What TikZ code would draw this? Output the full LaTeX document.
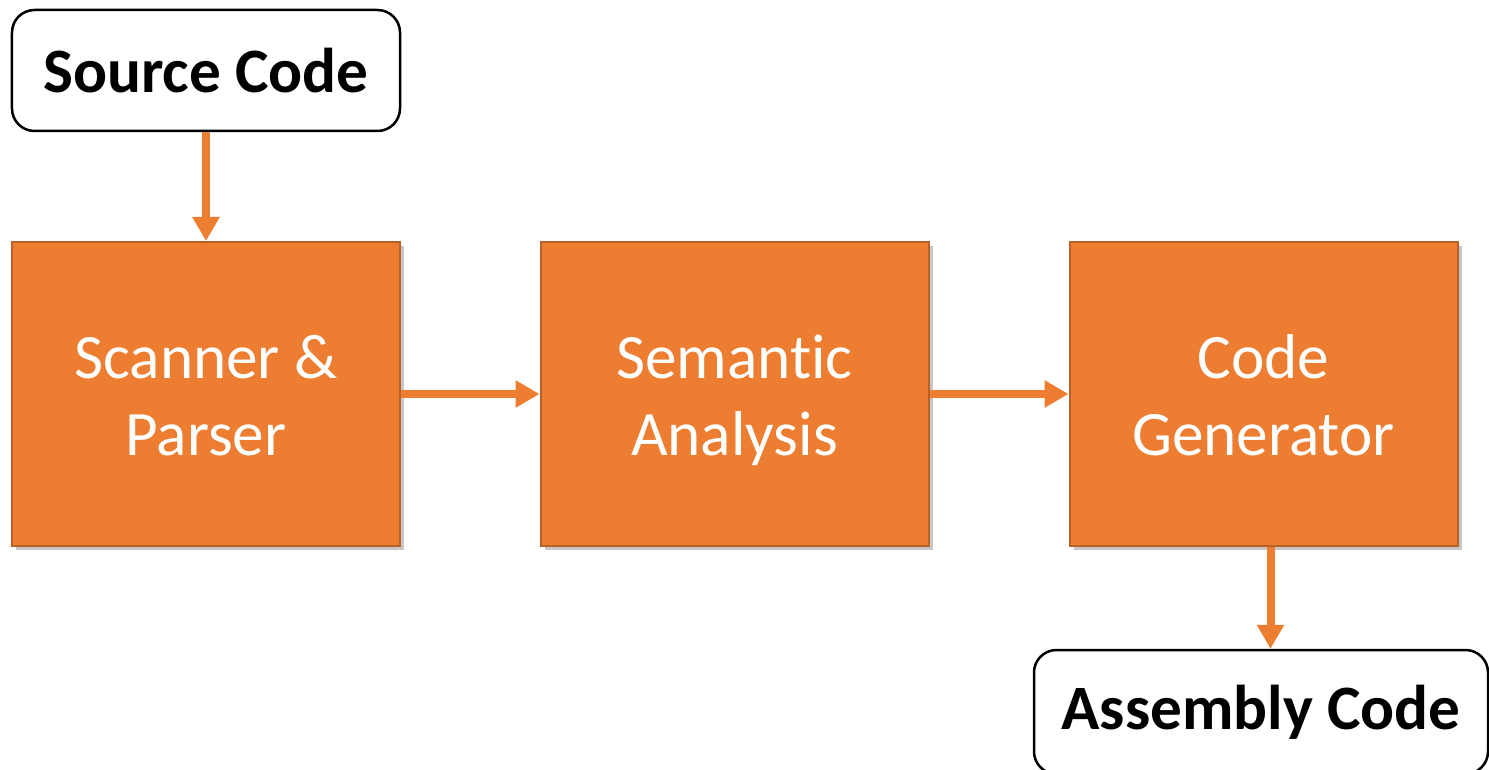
\documentclass[tikz,border=0pt]{standalone}
\usepackage{fontspec}
\setmainfont{Carlito}[Ligatures=NoCommon]
\usetikzlibrary{arrows.meta, positioning, shadows}
\definecolor{corange}{HTML}{ED7D31}
\definecolor{cdarkorange}{HTML}{B8622A}
% line strut so both lines of a stage sit at the same height
\newcommand{\linestrut}{\rule[-8pt]{0pt}{42pt}}
\tikzset{
  every picture/.style={font=\fontsize{36}{44}\selectfont},
  stage/.style={draw=cdarkorange, fill=corange, line width=0.04cm, text=white, align=center,
    minimum width=7.76cm, minimum height=6.08cm, inner sep=0pt,
    drop shadow={shadow xshift=2.5pt, shadow yshift=-2.5pt, fill=black, opacity=0.22}},
  io/.style={draw=black, fill=white, line width=0.05cm, rounded corners=0.45cm, align=center,
    minimum height=2.42cm, inner sep=0pt, font=\fontsize{36}{44}\selectfont\bfseries},
  arrow/.style={-{Triangle[length=0.48cm, width=0.52cm]}, draw=corange, line width=0.16cm},
}
\begin{document}
\begin{tikzpicture}[x=0.2mm, y=-0.2mm]
  \useasboundingbox (0,0) rectangle (1489,769);
  % the three stages
  \node[stage] (scan) at (206,394) {\linestrut Scanner \&\\\linestrut Parser};
  \node[stage] (sema) at (734.5,394) {\linestrut Semantic\\\linestrut Analysis};
  \node[stage] (codegen) at (1263.5,394) {\linestrut Code\\\linestrut Generator};
  % input and output
  \node[io, minimum width=7.76cm] (src) at (206,70.5) {Source Code};
  \node[io, minimum width=9.08cm, minimum height=2.48cm] (asm) at (1261,712) {Assembly Code};
  % flow
  \draw[arrow] (src) -- (scan);
  \draw[arrow] (scan) -- (sema);
  \draw[arrow] (sema) -- (codegen);
  \coordinate (out) at ([xshift=0.14cm]codegen.south);
  \draw[arrow] (out) -- (out |- asm.north);
\end{tikzpicture}
\end{document}
